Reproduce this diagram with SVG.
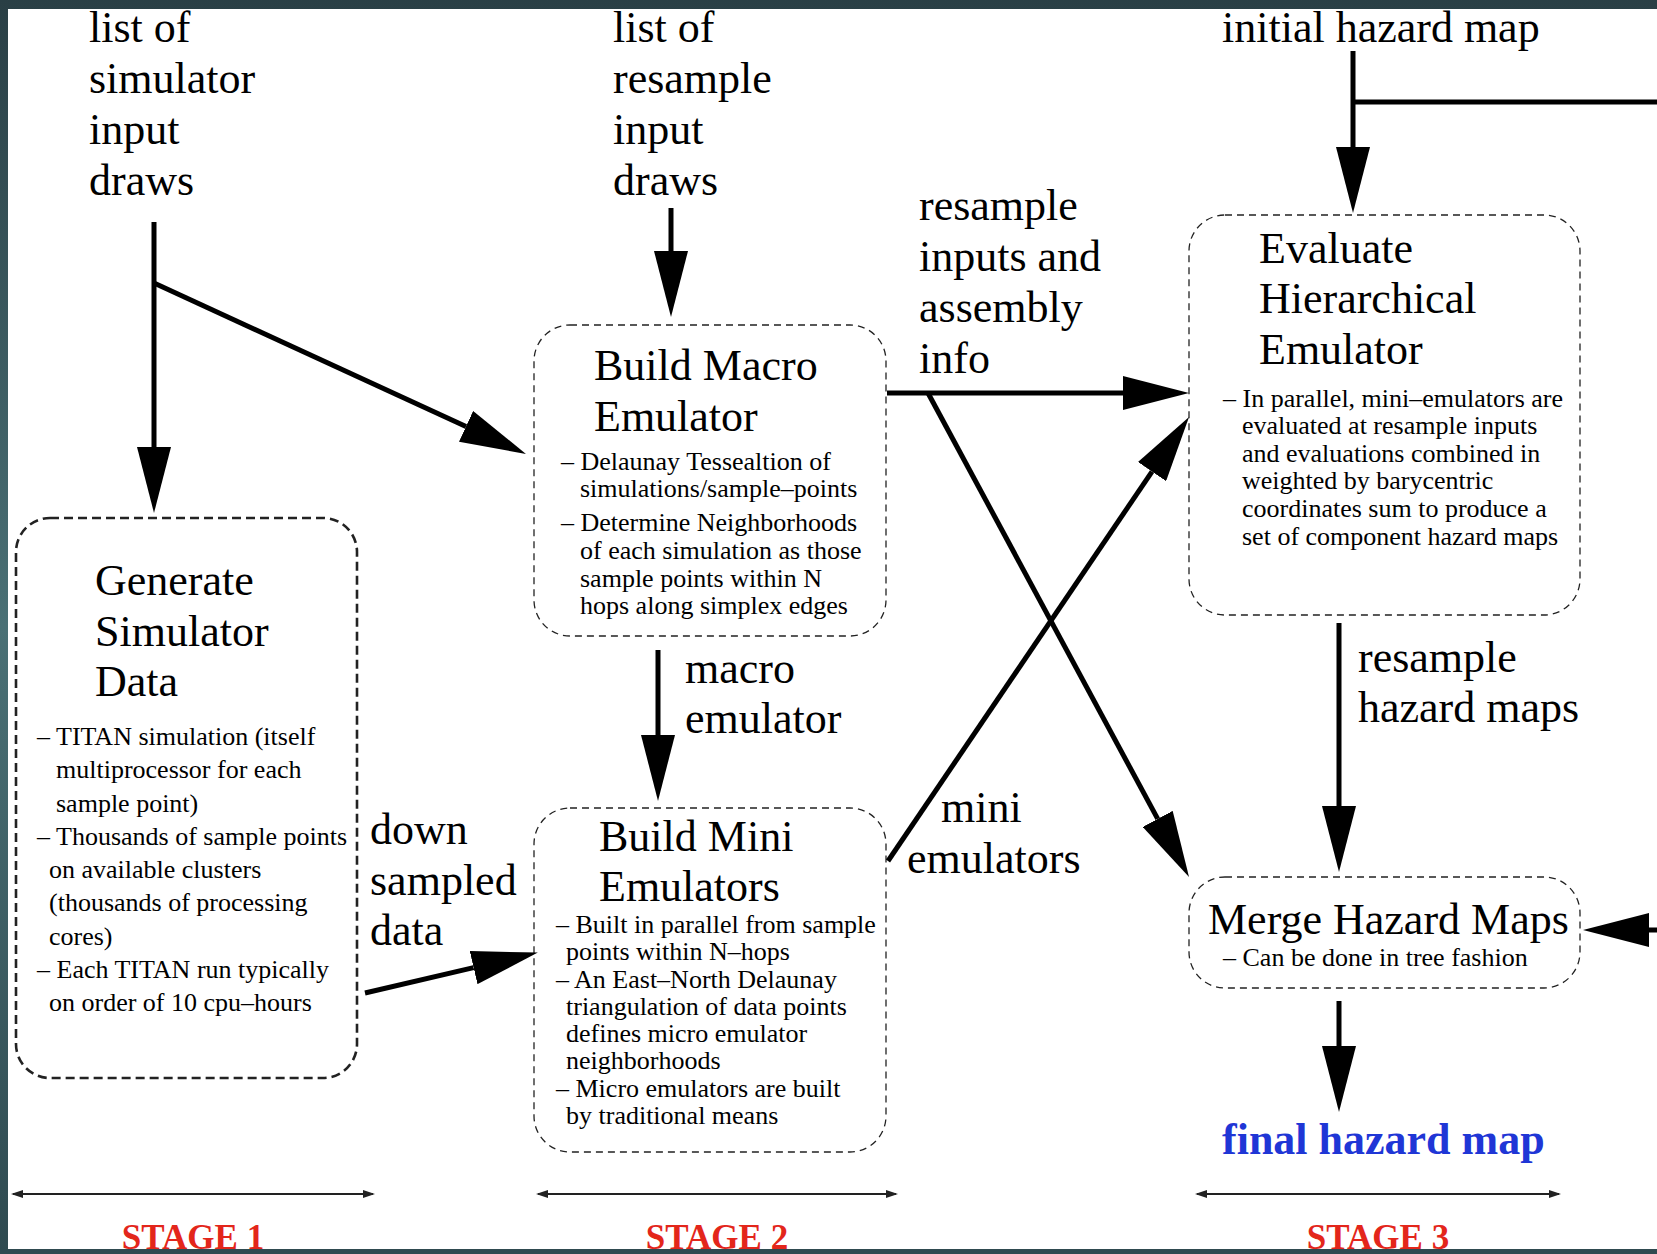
<svg xmlns="http://www.w3.org/2000/svg" width="1657" height="1254" viewBox="0 0 1657 1254">
<defs>
<linearGradient id="frame" x1="0" y1="0" x2="0" y2="1">
<stop offset="0" stop-color="#2a3f45"/><stop offset="0.5" stop-color="#4a7075"/><stop offset="1" stop-color="#2f4a50"/>
</linearGradient>
<marker id="ah" markerUnits="userSpaceOnUse" markerWidth="68" markerHeight="34" viewBox="0 0 68 34" refX="0" refY="17" orient="auto">
<path d="M0,0 L66,17 L0,34 z" fill="#000"/>
</marker>
<marker id="sa" markerUnits="userSpaceOnUse" markerWidth="12" markerHeight="10" viewBox="0 0 12 10" refX="10" refY="5" orient="auto-start-reverse">
<path d="M0,1 L12,5 L0,9 z" fill="#222"/>
</marker>
<style>
.t{font-family:"Liberation Serif","Times New Roman",serif;font-size:44px;fill:#000}
.s{font-family:"Liberation Serif","Times New Roman",serif;font-size:26px;fill:#000}
.box{fill:#fff;stroke:#222;stroke-width:1.3;stroke-dasharray:7 5}
.box1{stroke-width:2.6;stroke-dasharray:9 5}
.c{stroke:#000;stroke-width:5;fill:none}
.st{font-family:"Liberation Serif","Times New Roman",serif;font-weight:bold;font-size:35px;fill:#e3261b}
.sb{stroke:#222;stroke-width:2;fill:none}
</style>
</defs>
<rect x="0" y="0" width="1657" height="1254" fill="url(#frame)"/>
<rect x="8" y="9" width="1649" height="1240" fill="#fff"/>

<g id="inputs">
<text class="t"><tspan x="89" y="42">list of</tspan><tspan x="89" y="93">simulator</tspan><tspan x="89" y="144">input</tspan><tspan x="89" y="195">draws</tspan></text>
<text class="t"><tspan x="613" y="42">list of</tspan><tspan x="613" y="93">resample</tspan><tspan x="613" y="144">input</tspan><tspan x="613" y="195">draws</tspan></text>
<text class="t" x="1222" y="42">initial hazard map</text>
</g>

<g id="generate">
<rect class="box box1" x="16" y="518" width="341" height="560" rx="34"/>
<text class="t"><tspan x="95" y="595">Generate</tspan><tspan x="95" y="646">Simulator</tspan><tspan x="95" y="696">Data</tspan></text>
<text class="s">
<tspan x="37" y="745">– TITAN simulation (itself</tspan>
<tspan x="56" y="778">multiprocessor for each</tspan>
<tspan x="56" y="812">sample point)</tspan>
<tspan x="37" y="845">– Thousands of sample points</tspan>
<tspan x="49" y="878">on available clusters</tspan>
<tspan x="49" y="911">(thousands of processing</tspan>
<tspan x="49" y="945">cores)</tspan>
<tspan x="37" y="978">– Each TITAN run typically</tspan>
<tspan x="49" y="1011">on order of 10 cpu–hours</tspan>
</text>
</g>

<g id="macro">
<rect class="box" x="534" y="325" width="352" height="311" rx="36"/>
<text class="t"><tspan x="594" y="380">Build Macro</tspan><tspan x="594" y="431">Emulator</tspan></text>
<text class="s">
<tspan x="561" y="470">– Delaunay Tessealtion of</tspan>
<tspan x="580" y="497">simulations/sample–points</tspan>
<tspan x="561" y="531">– Determine Neighborhoods</tspan>
<tspan x="580" y="559">of each simulation as those</tspan>
<tspan x="580" y="587">sample points within N</tspan>
<tspan x="580" y="614">hops along simplex edges</tspan>
</text>
</g>

<g id="mini">
<rect class="box" x="534" y="808" width="352" height="344" rx="36"/>
<text class="t" x="599" y="851">Build Mini</text>
<text class="t" x="599" y="901">Emulators</text>
<text class="s">
<tspan x="556" y="933">– Built in parallel from sample</tspan>
<tspan x="566" y="960">points within N–hops</tspan>
<tspan x="556" y="988">– An East–North Delaunay</tspan>
<tspan x="566" y="1015">triangulation of data points</tspan>
<tspan x="566" y="1042">defines micro emulator</tspan>
<tspan x="566" y="1069">neighborhoods</tspan>
<tspan x="556" y="1097">– Micro emulators are built</tspan>
<tspan x="566" y="1124">by traditional means</tspan>
</text>
</g>

<g id="evaluate">
<rect class="box" x="1189" y="215" width="391" height="400" rx="36"/>
<text class="t"><tspan x="1259" y="263">Evaluate</tspan><tspan x="1259" y="313">Hierarchical</tspan><tspan x="1259" y="364">Emulator</tspan></text>
<text class="s">
<tspan x="1223" y="407">– In parallel, mini–emulators are</tspan>
<tspan x="1242" y="434">evaluated at resample inputs</tspan>
<tspan x="1242" y="462">and evaluations combined in</tspan>
<tspan x="1242" y="489">weighted by barycentric</tspan>
<tspan x="1242" y="517">coordinates sum to produce a</tspan>
<tspan x="1242" y="545">set of component hazard maps</tspan>
</text>
</g>

<g id="merge">
<rect class="box" x="1189" y="877" width="391" height="111" rx="36"/>
<text class="t" x="1208" y="934">Merge Hazard Maps</text>
<text class="s" x="1223" y="966">– Can be done in tree fashion</text>
</g>

<g id="final">
<text x="1222" y="1154" style="font-family:'Liberation Serif','Times New Roman',serif;font-weight:bold;font-size:44px;fill:#1f36d6">final hazard map</text>
</g>

<g id="connectors">
<path class="c" d="M154,222 V447" marker-end="url(#ah)"/>
<path class="c" d="M154,283 L466,426.4" marker-end="url(#ah)"/>
<path class="c" d="M671,208 V251" marker-end="url(#ah)"/>
<path class="c" d="M1353,51 V147" marker-end="url(#ah)"/>
<path class="c" d="M1353,102 H1662 V930 H1649" marker-end="url(#ah)"/>
<path class="c" d="M887,393 H1123" marker-end="url(#ah)"/>
<path class="c" d="M928,393 L1157.7,818.9" marker-end="url(#ah)"/>
<path class="c" d="M888,861 L1152,471.6" marker-end="url(#ah)"/>
<path class="c" d="M658,650 V735" marker-end="url(#ah)"/>
<path class="c" d="M365,993 L473.6,967.6" marker-end="url(#ah)"/>
<path class="c" d="M1339,623 V806" marker-end="url(#ah)"/>
<path class="c" d="M1339,1001 V1046" marker-end="url(#ah)"/>
</g>

<g id="connector-labels">
<text class="t"><tspan x="919" y="220">resample</tspan><tspan x="919" y="271">inputs and</tspan><tspan x="919" y="322">assembly</tspan><tspan x="919" y="373">info</tspan></text>
<text class="t"><tspan x="685" y="683">macro</tspan><tspan x="685" y="733">emulator</tspan></text>
<text class="t"><tspan x="370" y="844">down</tspan><tspan x="370" y="895">sampled</tspan><tspan x="370" y="945">data</tspan></text>
<text class="t"><tspan x="941" y="822">mini</tspan><tspan x="907" y="873">emulators</tspan></text>
<text class="t"><tspan x="1358" y="672">resample</tspan><tspan x="1358" y="722">hazard maps</tspan></text>
</g>

<g id="stages">
<path class="sb" d="M13,1194 H373" marker-start="url(#sa)" marker-end="url(#sa)"/>
<path class="sb" d="M538,1194 H896" marker-start="url(#sa)" marker-end="url(#sa)"/>
<path class="sb" d="M1197,1194 H1559" marker-start="url(#sa)" marker-end="url(#sa)"/>
<text class="st" x="193" y="1249" text-anchor="middle">STAGE 1</text>
<text class="st" x="717" y="1249" text-anchor="middle">STAGE 2</text>
<text class="st" x="1378" y="1249" text-anchor="middle">STAGE 3</text>
</g>
<rect x="0" y="1249" width="1657" height="5" fill="#2f4a50"/>
</svg>
